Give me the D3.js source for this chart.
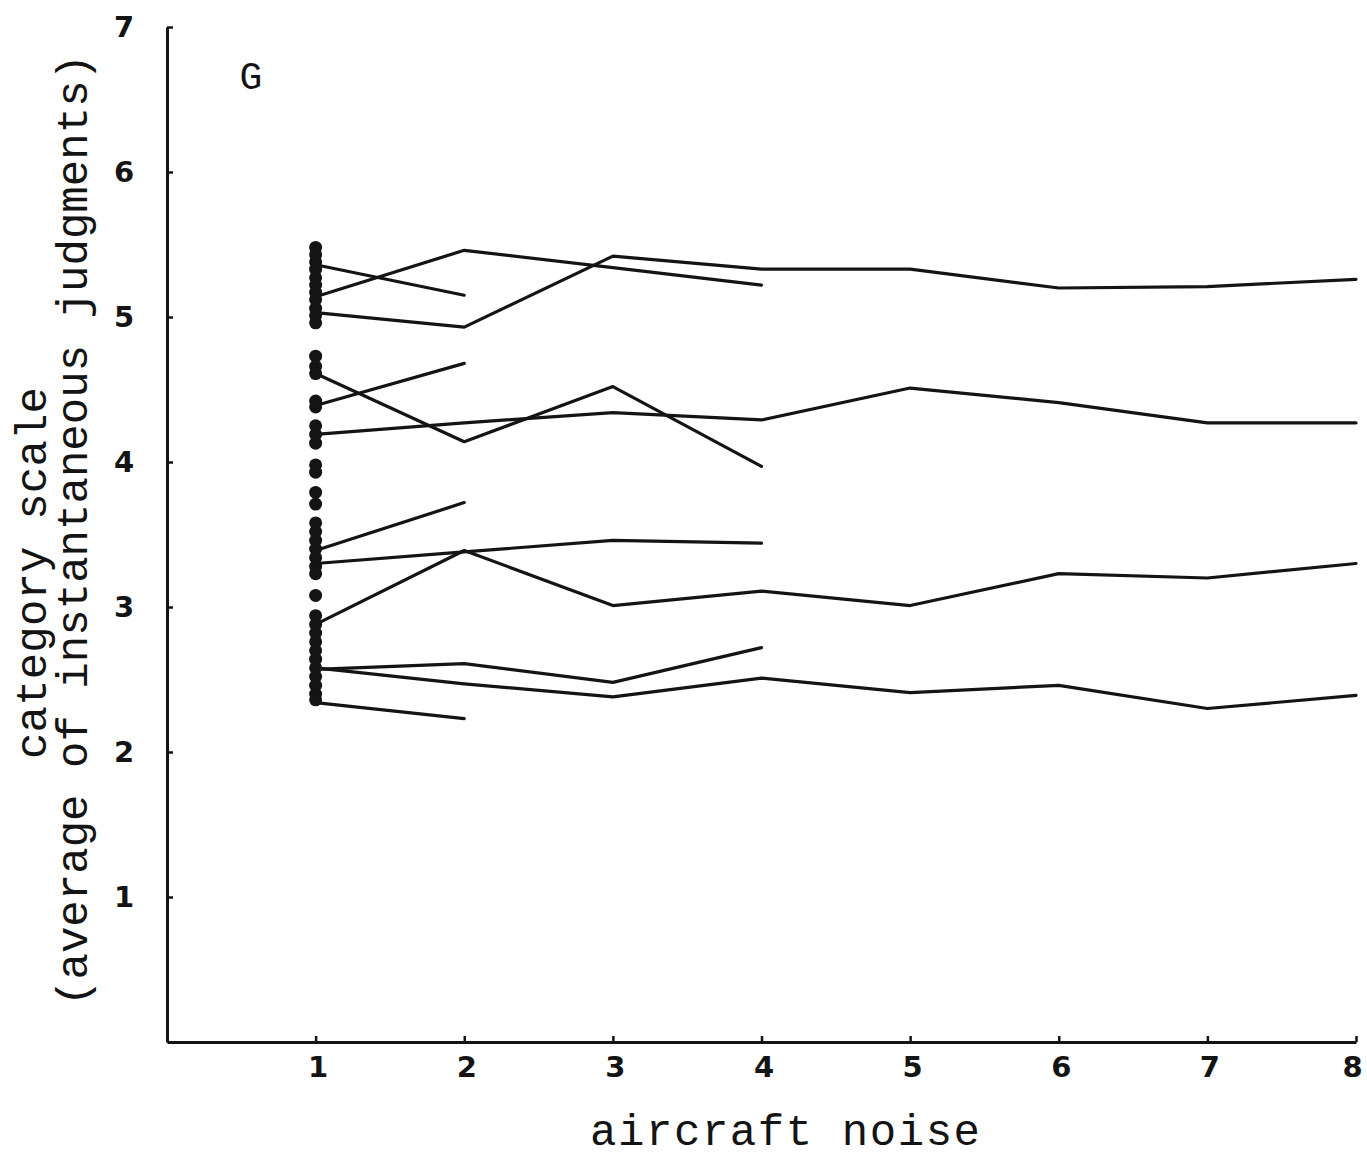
<!DOCTYPE html>
<html>
<head>
<meta charset="utf-8">
<script src="https://cdn.jsdelivr.net/npm/d3@7"></script>
<style>
  html, body { margin: 0; padding: 0; background: #fff; }
  svg { display: block; }
</style>
</head>
<body>
<div id="chart"></div>
<script>
// ---- data ----
const xTickValues = [1, 2, 3, 4, 5, 6, 7, 8];
const yTickValues = [1, 2, 3, 4, 5, 6, 7];
const panelLabel = "G";
const xTitle = "aircraft noise";
const yTitleLine1 = "category scale";
const yTitleLine2 = "(average of instantaneous judgments)";

// each series starts at aircraft noise = 1
const seriesA = [5.36, 5.15];
const seriesB = [5.14, 5.46, 5.34, 5.22];
const seriesC = [5.03, 4.93, 5.42, 5.33, 5.33, 5.20, 5.21, 5.26];
const seriesD = [4.39, 4.68];
const seriesE = [4.61, 4.14, 4.52, 3.97];
const seriesF = [4.19, 4.27, 4.34, 4.29, 4.51, 4.41, 4.27, 4.27];
const seriesG = [3.39, 3.72];
const seriesH = [3.30, 3.38, 3.46, 3.44];
const seriesI = [2.88, 3.39, 3.01, 3.11, 3.01, 3.23, 3.20, 3.30];
const seriesJ = [2.57, 2.61, 2.48, 2.72];
const seriesK = [2.58, 2.47, 2.38, 2.51, 2.41, 2.46, 2.30, 2.39];
const seriesL = [2.34, 2.23];

// single-point judgments at aircraft noise = 1
const dotsAtOne = [5.48, 5.43, 5.38, 5.33, 5.27, 5.22, 5.17, 5.12, 5.06, 5.01, 4.96,
                   4.73, 4.66, 4.61, 4.42, 4.38, 4.25, 4.19, 4.13, 3.98, 3.93,
                   3.79, 3.71, 3.58, 3.52, 3.46, 3.40, 3.34, 3.28, 3.23, 3.08,
                   2.94, 2.88, 2.82, 2.76, 2.70, 2.64, 2.58, 2.52, 2.46, 2.40, 2.36];

const allSeries = [seriesA, seriesB, seriesC, seriesD, seriesE, seriesF,
                   seriesG, seriesH, seriesI, seriesJ, seriesK, seriesL];

// ---- drawing ----
const W = 1367, H = 1165;
const ink = "#141414";
const svg = d3.select("#chart").append("svg")
  .attr("width", W).attr("height", H)
  .attr("viewBox", `0 0 ${W} ${H}`);
svg.append("rect").attr("width", W).attr("height", H).attr("fill", "#fff");

const x = d3.scaleLinear().domain([0, 8]).range([167, 1356]);
const y = d3.scaleLinear().domain([0, 7]).range([1042, 27]);

// axes
const xAxis = d3.axisBottom(x).tickValues(xTickValues)
  .tickSizeInner(-6).tickSizeOuter(0).tickPadding(14)
  .tickFormat(d3.format("d"));
const yAxis = d3.axisLeft(y).tickValues(yTickValues)
  .tickSizeInner(-6).tickSizeOuter(0).tickPadding(32)
  .tickFormat(d3.format("d"));

const gx = svg.append("g").attr("transform", `translate(0,${y(0)})`).call(xAxis);
const gy = svg.append("g").attr("transform", `translate(${x(0)},0)`).call(yAxis);

[gx, gy].forEach(g => {
  g.select(".domain").attr("stroke", ink).attr("stroke-width", 3);
  g.selectAll(".tick line").attr("stroke", ink).attr("stroke-width", 2.5);
  g.selectAll(".tick text")
    .attr("fill", ink)
    .attr("font-family", "'DejaVu Sans', sans-serif")
    .attr("font-weight", "bold")
    .attr("font-size", 29);
});
gy.selectAll(".tick text").attr("text-anchor", "middle").attr("x", -43);
gx.selectAll(".tick text").attr("dx", d => d === 8 ? -4 : 2);

// series lines
const line = d3.line()
  .x((d, i) => x(xTickValues[i]))
  .y(d => y(d));

svg.append("g").selectAll("path")
  .data(allSeries)
  .join("path")
  .attr("d", line)
  .attr("fill", "none")
  .attr("stroke", ink)
  .attr("stroke-width", 3.2)
  .attr("stroke-linejoin", "round")
  .attr("stroke-linecap", "round");

// dots at x = 1
svg.append("g").selectAll("circle")
  .data(dotsAtOne)
  .join("circle")
  .attr("cx", x(1))
  .attr("cy", d => y(d))
  .attr("r", 6.5)
  .attr("fill", ink);

// panel label
svg.append("text")
  .attr("x", 251).attr("y", 89)
  .attr("text-anchor", "middle")
  .attr("font-family", "'Liberation Mono', monospace")
  .attr("font-size", 38)
  .attr("fill", ink)
  .text(panelLabel);

// x title
svg.append("text")
  .attr("x", 785).attr("y", 1145)
  .attr("text-anchor", "middle")
  .attr("font-family", "'Liberation Mono', monospace")
  .attr("font-size", 44)
  .attr("textLength", 390)
  .attr("lengthAdjust", "spacing")
  .attr("fill", ink)
  .text(xTitle);

// y title (two rotated lines)
svg.append("text")
  .attr("transform", "translate(46,573) rotate(-90)")
  .attr("text-anchor", "middle")
  .attr("font-family", "'Liberation Mono', monospace")
  .attr("font-size", 44)
  .attr("textLength", 372)
  .attr("lengthAdjust", "spacing")
  .attr("fill", ink)
  .text(yTitleLine1);

svg.append("text")
  .attr("transform", "translate(87,530) rotate(-90)")
  .attr("text-anchor", "middle")
  .attr("font-family", "'Liberation Mono', monospace")
  .attr("font-size", 44)
  .attr("textLength", 952)
  .attr("lengthAdjust", "spacing")
  .attr("fill", ink)
  .text(yTitleLine2);
</script>
</body>
</html>
